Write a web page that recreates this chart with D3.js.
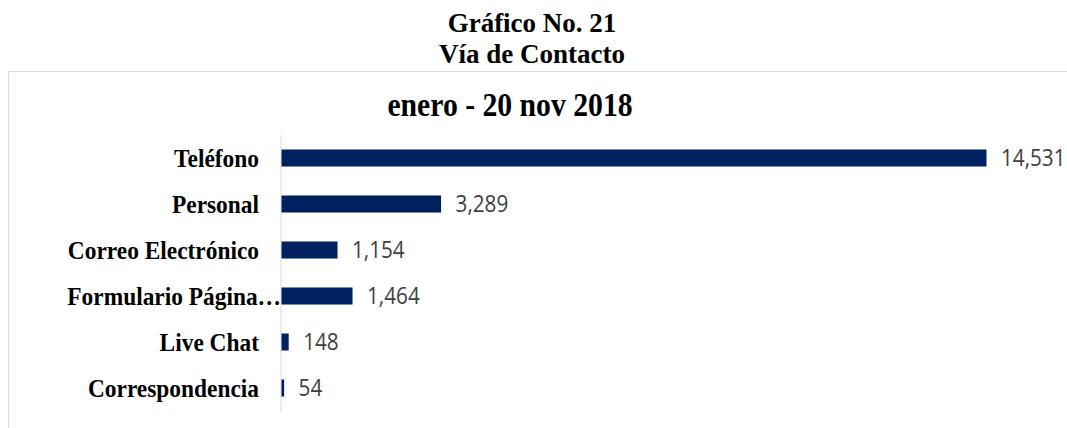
<!DOCTYPE html>
<html>
<head>
<meta charset="utf-8">
<script src="https://cdn.jsdelivr.net/npm/d3@7"></script>
<style>
  body { margin: 0; background: #fff; }
</style>
</head>
<body>
<div id="chart"></div>
<script>
var categories = ["Teléfono", "Personal", "Correo Electrónico", "Formulario Página…", "Live Chat", "Correspondencia"];
var values = [14531, 3289, 1154, 1464, 148, 54];
var titleLines = ["Gráfico No. 21", "Vía de Contacto"];
var subtitle = "enero - 20 nov 2018";

var width = 1067;
var height = 428;
var squeeze = 0.9; // the source text is a little narrower than plain Times

var svg = d3.select("#chart")
  .append("svg")
  .attr("width", width)
  .attr("height", height);

function place(x, y, sx) {
  return "translate(" + x + "," + y + ") scale(" + (sx || squeeze) + ",1)";
}

// outer frame of the chart area (runs off the right and bottom edge)
svg.append("rect")
  .attr("x", 8.5)
  .attr("y", 71.5)
  .attr("width", 1100)
  .attr("height", 400)
  .attr("fill", "none")
  .attr("stroke", "#d9d9d9");

// titles above the frame
svg.selectAll(".title")
  .data(titleLines)
  .enter()
  .append("text")
  .attr("class", "title")
  .attr("transform", (d, i) => place(532, 32 + i * 31, 1))
  .attr("text-anchor", "middle")
  .attr("font-family", "Liberation Serif")
  .attr("font-weight", "bold")
  .attr("font-size", 27)
  .text(d => d);

svg.append("text")
  .attr("transform", place(510, 116))
  .attr("text-anchor", "middle")
  .attr("font-family", "Liberation Serif")
  .attr("font-weight", "bold")
  .attr("font-size", 33)
  .text(subtitle);

var xScale = d3.scaleLinear()
  .domain([0, d3.max(values)])
  .range([281, 986]);

var yScale = d3.scaleBand()
  .domain(categories)
  .range([135, 411])
  .paddingInner(0.63)
  .paddingOuter(0.315);

var data = categories.map((c, i) => ({ cat: c, val: values[i] }));

// vertical category axis line
svg.append("line")
  .attr("x1", xScale(0))
  .attr("x2", xScale(0))
  .attr("y1", yScale.range()[0])
  .attr("y2", yScale.range()[1] + 1)
  .attr("stroke", "#d9d9d9");

svg.selectAll(".bar")
  .data(data)
  .enter()
  .append("rect")
  .attr("class", "bar")
  .attr("x", xScale(0) + 0.5)
  .attr("y", d => yScale(d.cat))
  .attr("width", d => xScale(d.val) - xScale(0))
  .attr("height", yScale.bandwidth())
  .attr("fill", "#002060");

// category labels (the truncated one spills up to the axis like in Excel)
svg.selectAll(".cat")
  .data(data)
  .enter()
  .append("text")
  .attr("class", "cat")
  .attr("transform", d => place(d.cat.endsWith("…") ? xScale(0) : xScale(0) - 22,
                                 yScale(d.cat) + yScale.bandwidth() / 2))
  .attr("dy", "0.34em")
  .attr("text-anchor", "end")
  .attr("font-family", "Liberation Serif")
  .attr("font-weight", "bold")
  .attr("font-size", 26)
  .attr("fill", "#000")
  .text(d => d.cat);

svg.selectAll(".val")
  .data(data)
  .enter()
  .append("text")
  .attr("class", "val")
  .attr("transform", d => place(xScale(d.val) + 15, yScale(d.cat) + yScale.bandwidth() / 2))
  .attr("dy", "0.36em")
  .attr("font-family", "Open Sans")
  .attr("font-size", 23)
  .attr("fill", "#404040")
  .text(d => d3.format(",")(d.val));
</script>
</body>
</html>
